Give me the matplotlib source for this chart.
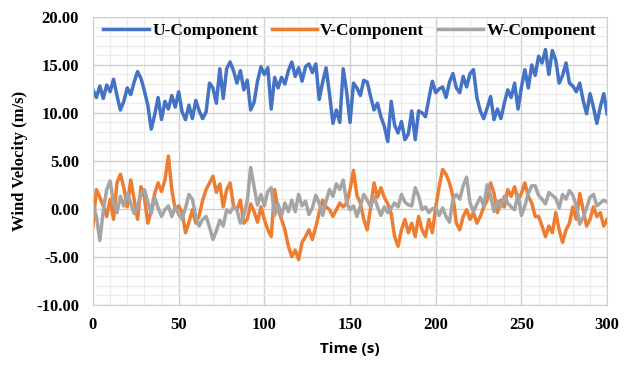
import numpy as np
import matplotlib.pyplot as plt
from matplotlib.ticker import MultipleLocator, FormatStrFormatter

# Wind velocity components, one value every 2 s (0-300 s)
u_comp = [12.4, 11.6, 12.8, 11.5, 12.9, 12.2, 13.5, 11.8, 10.3, 11.2,
          12.6, 11.9, 13.2, 14.3, 13.6, 12.3, 10.8, 8.3, 9.8, 11.6,
          9.3, 11.2, 10.4, 11.8, 10.6, 12.2, 10.1, 9.3, 10.8, 9.4,
          11.3, 10.2, 9.4, 10.1, 13.1, 12.6, 11.0, 14.6, 11.5, 14.6,
          15.3, 14.4, 13.1, 14.4, 12.4, 13.4, 10.3, 11.1, 13.3, 14.8,
          14.0, 14.7, 10.4, 13.7, 12.6, 13.7, 13.0, 14.4, 15.3, 13.8,
          14.7, 13.3, 14.8, 15.1, 14.2, 15.1, 11.4, 13.2, 14.7, 12.0,
          8.9, 10.3, 9.0, 14.6, 12.2, 9.0, 13.1, 12.6, 11.8, 13.4,
          13.2, 11.7, 10.3, 11.0, 9.6, 8.6, 7.0, 11.2, 8.7, 7.9,
          9.1, 7.2, 7.8, 10.2, 7.2, 10.2, 10.0, 9.6, 11.5, 13.3,
          12.1, 12.5, 12.7, 11.6, 13.2, 14.1, 12.6, 12.1, 13.8, 12.7,
          14.1, 14.5, 11.6, 10.2, 9.4, 10.5, 11.7, 9.3, 10.4, 9.4,
          11.0, 12.4, 11.6, 13.1, 10.4, 12.7, 14.5, 12.6, 15.0, 13.9,
          15.9, 15.2, 16.6, 14.0, 16.5, 15.5, 13.1, 13.9, 15.2, 13.1,
          12.8, 12.2, 13.1, 11.3, 9.9, 12.0, 10.6, 8.9, 10.6, 12.0,
          9.9]

v_comp = [-1.8, 2.0, 1.2, 0.3, -0.8, 1.0, -1.1, 2.7, 3.6, 2.2,
          0.2, 3.0, 1.0, -1.1, 2.3, 1.2, -1.5, -0.2, 1.6, 2.7,
          1.8, 3.0, 5.5, 2.0, -0.1, 0.3, -0.4, -2.5, -1.4, -0.1,
          -1.5, -0.7, 0.9, 2.0, 2.7, 3.4, 1.7, 2.6, 0.2, 2.0,
          2.7, 0.3, -0.1, 0.9, -1.5, -1.1, 0.5, -0.3, -1.4, 0.2,
          -1.1, -2.2, -2.9, 2.0, -0.1, -1.1, -2.2, -3.9, -5.0, -4.3,
          -5.3, -3.5, -2.9, -2.2, -3.2, -1.9, -0.4, 0.9, 0.2, -0.1,
          -0.8, -0.1, 0.6, 0.2, 0.6, 2.0, 4.0, 1.4, 0.6, -1.1,
          -2.2, 0.1, 2.7, 1.2, 2.2, 1.2, 0.5, -0.5, -2.9, -3.9,
          -2.2, -1.1, -2.5, -1.5, -2.9, -0.8, -2.2, -2.9, -1.1, -2.5,
          0.2, 2.3, 4.1, 3.6, 2.7, 1.3, -1.5, -2.2, -0.8, -0.1,
          -1.1, -0.4, -1.5, -0.8, 0.2, 0.9, 2.7, 1.6, -0.4, 0.9,
          0.2, 2.0, 1.3, 2.3, 0.9, 1.6, 2.7, 1.3, 0.6, -0.8,
          -0.8, -1.8, -2.9, -1.8, -2.5, -0.4, -2.2, -3.5, -2.2, -1.5,
          0.2, -1.1, 1.6, -0.1, -1.8, -1.1, 0.2, -0.8, -0.4, -1.8,
          -1.1]

w_comp = [0.4, -0.8, -3.3, -0.2, 2.0, 2.9, 0.6, -0.4, 1.3, 0.3,
          1.6, 0.6, -0.5, 0.2, 1.6, 2.0, 0.7, -0.5, 1.2, 0.1,
          -0.8, -0.1, 0.3, -0.8, 0.2, -0.6, -1.1, 0.1, 1.5, 1.0,
          -0.8, -1.8, -1.1, -0.8, -1.9, -3.2, -2.3, -1.2, -1.8, -0.1,
          -0.4, 0.2, -0.1, -1.5, -0.7, 0.8, 4.3, 2.3, 0.4, 1.5,
          0.3, 1.8, 2.2, -0.7, 0.5, -0.7, 0.6, -0.3, 0.9, -0.3,
          1.5, 0.3, 0.8, -0.6, 0.1, 1.4, 0.6, -0.7, 0.8, 2.0,
          1.3, 2.6, 2.0, 3.0, 0.6, -0.1, 0.3, -0.8, 0.3, 1.5,
          0.9, 0.2, 1.3, 0.2, -0.7, 0.2, -0.4, 0.1, 0.6, 0.2,
          1.5, 0.7, 0.4, 0.3, 2.2, 1.3, -0.1, 0.2, -0.4, 0.0,
          0.1, -0.7, 0.1, -0.8, -1.4, 1.0, 1.5, 1.0, 2.4, 3.3,
          0.6, -0.3, 0.5, 1.2, 0.3, 2.5, 1.4, -0.3, 0.8, 0.2,
          1.3, 0.6, 0.2, -0.1, 1.5, -0.7, 0.3, 1.6, 2.4, 2.4,
          1.4, 1.0, 0.5, 1.7, 1.4, 1.1, 0.1, 1.5, 1.0, 1.9,
          1.4, 0.3, -1.6, -0.9, 0.1, 1.2, 1.5, 0.3, 0.6, 0.9,
          0.7]

series_names = ['U-Component', 'V-Component', 'W-Component']
series_colors = ['#4472C4', '#ED7D31', '#A5A5A5']

serif = 'Liberation Serif'

fig = plt.figure(figsize=(6.24, 3.68), dpi=100)
ax = fig.add_axes([0.149, 0.172, 0.824, 0.782])

for vals, name, col in zip([u_comp, v_comp, w_comp], series_names, series_colors):
    t = np.linspace(0, 300, len(vals))
    ax.plot(t, vals, color=col, lw=2.5, label=name, solid_joinstyle='round')

ax.set_xlim(0, 300)
ax.set_ylim(-10, 20)
ax.xaxis.set_major_locator(MultipleLocator(50))
ax.xaxis.set_minor_locator(MultipleLocator(10))
ax.yaxis.set_major_locator(MultipleLocator(5))
ax.yaxis.set_minor_locator(MultipleLocator(1))
ax.yaxis.set_major_formatter(FormatStrFormatter('%.2f'))

ax.grid(which='major', color='#d0d0d0', lw=1.0)
ax.grid(which='minor', color='#ececec', lw=0.8)
ax.set_axisbelow(True)
for s in ax.spines.values():
    s.set_color('#d0d0d0')

ax.tick_params(which='both', length=0)
ax.tick_params(axis='y', pad=10)
ax.tick_params(axis='x', pad=9)
for lab in ax.get_xticklabels() + ax.get_yticklabels():
    lab.set_fontfamily(serif)
    lab.set_fontweight('bold')
    lab.set_fontsize(12)

ax.set_xlabel('Time (s)', fontfamily='Open Sans', fontweight='bold', fontsize=11, labelpad=6)
ax.set_ylabel('Wind Velocity (m/s)', fontfamily=serif, fontweight='bold', fontsize=12, labelpad=6)

ax.legend(loc='upper center', ncol=3, frameon=False, handlelength=2.6,
          handletextpad=0.2, columnspacing=0.8, bbox_to_anchor=(0.5, 1.035),
          prop={'family': serif, 'weight': 'bold', 'size': 12.5})

fig.savefig('out.png', dpi=100)
